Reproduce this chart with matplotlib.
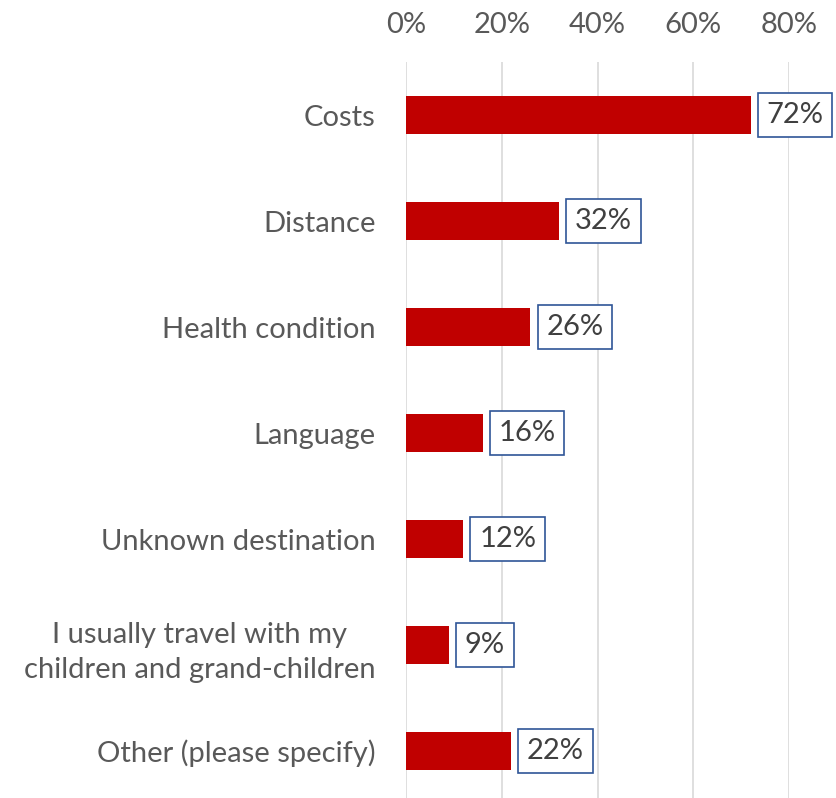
import matplotlib.pyplot as plt
from matplotlib.ticker import FuncFormatter

# Reasons for not travelling (share of respondents, %)
categories = [
    "Costs",
    "Distance",
    "Health condition",
    "Language",
    "Unknown destination",
    "I usually travel with my\nchildren and grand-children",
    "Other (please specify)",
]
shares = [72, 32, 26, 16, 12, 9, 22]
x_ticks = [0, 20, 40, 60, 80]

BAR_COLOR = "#c00000"
TEXT_COLOR = "#595959"
BOX_EDGE = "#2f5597"

plt.rcParams["font.family"] = ["Lato", "DejaVu Sans"]

fig = plt.figure(figsize=(8.36, 7.98), dpi=100)
ax = fig.add_axes([406 / 836, -6 / 798, 383 / 836, 742 / 798])

ypos = list(range(len(categories)))
ax.barh(ypos, shares, height=0.35, color=BAR_COLOR, zorder=3)

# value labels in small outlined boxes next to each bar
for y, v in zip(ypos, shares):
    ax.text(v + 3.3, y, f"{v}%", va="center", ha="left", fontsize=21,
            color="#404040", zorder=4,
            bbox=dict(boxstyle="square,pad=0.3", facecolor="white",
                      edgecolor=BOX_EDGE, linewidth=1.2))

ax.set_xlim(0, 80)
ax.set_ylim(len(categories) - 0.5, -0.5)
ax.set_xticks(x_ticks)
ax.xaxis.set_major_formatter(FuncFormatter(lambda v, p: f"{v:.0f}%"))
ax.xaxis.tick_top()
ax.tick_params(axis="x", length=0, pad=17, labelsize=21, labelcolor=TEXT_COLOR)
ax.set_yticks(ypos)
ax.set_yticklabels(categories, fontsize=21, color=TEXT_COLOR, linespacing=1.45)
ax.tick_params(axis="y", length=0, pad=22)
for lbl in ax.get_yticklabels():
    lbl.set_multialignment("center")

ax.grid(axis="x", color="#d9d9d9", linewidth=1.2, zorder=0)
for s in ax.spines.values():
    s.set_visible(False)

fig.savefig("out.png", dpi=100)
